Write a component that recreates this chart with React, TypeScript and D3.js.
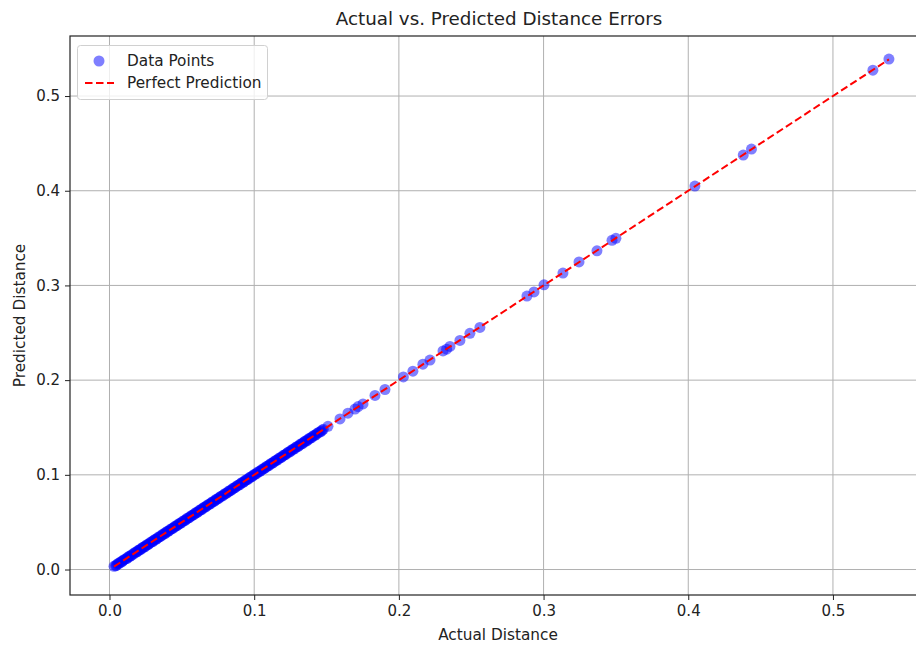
import React, { useEffect, useRef } from 'react';
import * as d3 from 'd3';

// dense cluster of small distances: actual (x) and predicted (y)
const actualDense = [
  0.0031, 0.0042, 0.0055, 0.0068, 0.0079, 0.0091, 0.0104, 0.0117, 0.0128, 0.0142,
  0.0155, 0.0166, 0.0181, 0.0193, 0.0207, 0.0219, 0.0234, 0.0246, 0.0261, 0.0273,
  0.0288, 0.0301, 0.0315, 0.0329, 0.0342, 0.0358, 0.0371, 0.0386, 0.0399, 0.0413,
  0.0428, 0.0442, 0.0457, 0.0469, 0.0484, 0.0498, 0.0513, 0.0527, 0.0541, 0.0556,
  0.0570, 0.0585, 0.0598, 0.0612, 0.0627, 0.0641, 0.0656, 0.0669, 0.0684, 0.0699,
  0.0713, 0.0728, 0.0741, 0.0757, 0.0771, 0.0786, 0.0800, 0.0815, 0.0829, 0.0844,
  0.0858, 0.0872, 0.0887, 0.0901, 0.0916, 0.0930, 0.0945, 0.0959, 0.0974, 0.0988,
  0.1003, 0.1018, 0.1032, 0.1047, 0.1061, 0.1076, 0.1090, 0.1105, 0.1119, 0.1134,
  0.1149, 0.1163, 0.1178, 0.1192, 0.1207, 0.1221, 0.1236, 0.1251, 0.1265, 0.1280,
  0.1294, 0.1309, 0.1324, 0.1338, 0.1353, 0.1368, 0.1382, 0.1397, 0.1412, 0.1428,
  0.1445, 0.1463, 0.1478,
  0.0048, 0.0062, 0.0085, 0.0098, 0.0122, 0.0136, 0.0149, 0.0172, 0.0187, 0.0201,
  0.0213, 0.0227, 0.0240, 0.0254, 0.0267, 0.0281, 0.0295, 0.0308, 0.0322, 0.0336,
  0.0350, 0.0364, 0.0379, 0.0392, 0.0406, 0.0420, 0.0435, 0.0450, 0.0463, 0.0477,
  0.0491, 0.0505, 0.0520, 0.0534, 0.0549, 0.0563, 0.0577, 0.0591, 0.0605, 0.0620,
  0.0634, 0.0648, 0.0662, 0.0677, 0.0691, 0.0706, 0.0720, 0.0735, 0.0749, 0.0764,
  0.0778, 0.0793, 0.0807, 0.0822, 0.0836, 0.0851, 0.0865, 0.0880, 0.0894, 0.0909,
  0.0923, 0.0938, 0.0952, 0.0967, 0.0981, 0.0996, 0.1010, 0.1025, 0.1040, 0.1054,
  0.1069, 0.1083, 0.1098, 0.1112, 0.1127, 0.1141, 0.1156, 0.1170, 0.1185, 0.1200,
  0.1214, 0.1229, 0.1243, 0.1258, 0.1272, 0.1287, 0.1302, 0.1316, 0.1331, 0.1346,
  0.1360, 0.1375, 0.1390, 0.1405, 0.1420, 0.1437, 0.1454, 0.1470,
];
const predictedDense = [
  0.0034, 0.0040, 0.0058, 0.0065, 0.0082, 0.0089, 0.0107, 0.0114, 0.0131, 0.0139,
  0.0158, 0.0163, 0.0184, 0.0190, 0.0210, 0.0216, 0.0237, 0.0243, 0.0264, 0.0270,
  0.0291, 0.0298, 0.0318, 0.0326, 0.0345, 0.0355, 0.0374, 0.0383, 0.0402, 0.0410,
  0.0431, 0.0439, 0.0460, 0.0466, 0.0487, 0.0495, 0.0516, 0.0524, 0.0544, 0.0553,
  0.0573, 0.0582, 0.0601, 0.0609, 0.0630, 0.0638, 0.0659, 0.0666, 0.0687, 0.0696,
  0.0716, 0.0725, 0.0744, 0.0754, 0.0774, 0.0783, 0.0803, 0.0812, 0.0832, 0.0841,
  0.0861, 0.0869, 0.0890, 0.0898, 0.0919, 0.0927, 0.0948, 0.0956, 0.0977, 0.0985,
  0.1006, 0.1015, 0.1035, 0.1044, 0.1064, 0.1073, 0.1093, 0.1102, 0.1122, 0.1131,
  0.1152, 0.1160, 0.1181, 0.1189, 0.1210, 0.1218, 0.1239, 0.1248, 0.1268, 0.1277,
  0.1297, 0.1306, 0.1327, 0.1335, 0.1356, 0.1365, 0.1385, 0.1394, 0.1415, 0.1425,
  0.1448, 0.1460, 0.1481,
  0.0045, 0.0066, 0.0082, 0.0101, 0.0119, 0.0139, 0.0146, 0.0175, 0.0184, 0.0204,
  0.0210, 0.0230, 0.0237, 0.0257, 0.0264, 0.0284, 0.0292, 0.0311, 0.0319, 0.0339,
  0.0347, 0.0367, 0.0376, 0.0395, 0.0403, 0.0423, 0.0432, 0.0453, 0.0460, 0.0480,
  0.0488, 0.0508, 0.0517, 0.0537, 0.0546, 0.0566, 0.0574, 0.0594, 0.0602, 0.0623,
  0.0631, 0.0651, 0.0659, 0.0680, 0.0688, 0.0709, 0.0717, 0.0738, 0.0746, 0.0767,
  0.0775, 0.0796, 0.0804, 0.0825, 0.0833, 0.0854, 0.0862, 0.0883, 0.0891, 0.0912,
  0.0920, 0.0941, 0.0949, 0.0970, 0.0978, 0.0999, 0.1007, 0.1028, 0.1037, 0.1057,
  0.1066, 0.1086, 0.1095, 0.1115, 0.1124, 0.1144, 0.1153, 0.1173, 0.1182, 0.1203,
  0.1211, 0.1232, 0.1240, 0.1261, 0.1269, 0.1290, 0.1299, 0.1319, 0.1328, 0.1349,
  0.1357, 0.1378, 0.1387, 0.1408, 0.1417, 0.1440, 0.1451, 0.1473,
];

// sparse larger distances
const actualSparse = [
  0.1510, 0.1593, 0.1648, 0.1697, 0.1718, 0.1752, 0.1835, 0.1904, 0.2031, 0.2097,
  0.2166, 0.2215, 0.2305, 0.2330, 0.2353, 0.2422, 0.2491, 0.2560, 0.2885, 0.2934,
  0.3003, 0.3134, 0.3245, 0.3369, 0.3473, 0.3500, 0.4046, 0.4380, 0.4437, 0.5276,
  0.5387,
];
const predictedSparse = [
  0.1512, 0.1590, 0.1651, 0.1695, 0.1721, 0.1749, 0.1838, 0.1901, 0.2034, 0.2094,
  0.2169, 0.2212, 0.2308, 0.2327, 0.2356, 0.2419, 0.2494, 0.2557, 0.2888, 0.2931,
  0.3006, 0.3131, 0.3248, 0.3366, 0.3476, 0.3497, 0.4049, 0.4377, 0.4440, 0.5273,
  0.5390,
];

const xTicks = [0.0, 0.1, 0.2, 0.3, 0.4, 0.5];
const yTicks = [0.0, 0.1, 0.2, 0.3, 0.4, 0.5];

const font = 'DejaVu Sans, sans-serif';

function App() {
  const ref = useRef<SVGSVGElement | null>(null);

  useEffect(() => {
    document.body.style.margin = '0';
    if (!ref.current) return;
    const svg = d3.select(ref.current);
    svg.selectAll('*').remove();

    const actual = actualDense.concat(actualSparse);
    const predicted = predictedDense.concat(predictedSparse);

    const left = 70, right = 928, top = 36, bottom = 595;
    const x = d3.scaleLinear().domain([-0.0273, 0.5657]).range([left, right]);
    const y = d3.scaleLinear().domain([-0.0269, 0.5634]).range([bottom, top]);

    // grid
    const grid = svg.append('g');
    grid.selectAll('line.gx').data(xTicks).enter().append('line')
      .attr('x1', d => x(d)).attr('x2', d => x(d))
      .attr('y1', top).attr('y2', bottom)
      .attr('stroke', '#b0b0b0').attr('stroke-width', 1);
    grid.selectAll('line.gy').data(yTicks).enter().append('line')
      .attr('y1', d => y(d)).attr('y2', d => y(d))
      .attr('x1', left).attr('x2', right)
      .attr('stroke', '#b0b0b0').attr('stroke-width', 1);

    // points
    const pts = actual.map((a, i) => [a, predicted[i]]);
    svg.append('g').selectAll('circle').data(pts).enter().append('circle')
      .attr('cx', d => x(d[0])).attr('cy', d => y(d[1])).attr('r', 5.5)
      .attr('fill', 'blue').attr('fill-opacity', 0.5);

    // perfect prediction line
    const lo = d3.min(actual) as number, hi = d3.max(actual) as number;
    const line = d3.line<number>().x(d => x(d)).y(d => y(d));
    svg.append('path').datum([lo, hi]).attr('d', line)
      .attr('fill', 'none').attr('stroke', 'red').attr('stroke-width', 2)
      .attr('stroke-dasharray', '7.5,3.5');

    // axes
    const xAxis = svg.append('g').attr('transform', `translate(0,${bottom})`)
      .call(d3.axisBottom(x).tickValues(xTicks).tickFormat(d3.format('.1f')).tickSize(5).tickPadding(5));
    const yAxis = svg.append('g').attr('transform', `translate(${left},0)`)
      .call(d3.axisLeft(y).tickValues(yTicks).tickFormat(d3.format('.1f')).tickSize(5).tickPadding(5));
    [xAxis, yAxis].forEach(g => {
      g.select('.domain').remove();
      g.selectAll('line').attr('stroke', '#222');
      g.selectAll('text').attr('font-family', font).attr('font-size', 15).attr('fill', '#222');
    });

    // spines
    svg.append('rect').attr('x', left).attr('y', top)
      .attr('width', right - left).attr('height', bottom - top)
      .attr('fill', 'none').attr('stroke', '#222').attr('stroke-width', 1.2);

    // labels
    svg.append('text').attr('x', 499).attr('y', 25).attr('text-anchor', 'middle')
      .attr('font-family', font).attr('font-size', 18.3).attr('fill', '#222')
      .text('Actual vs. Predicted Distance Errors');
    svg.append('text').attr('x', 498).attr('y', 640).attr('text-anchor', 'middle')
      .attr('font-family', font).attr('font-size', 15.3).attr('fill', '#222')
      .text('Actual Distance');
    svg.append('text').attr('transform', `translate(25,${(top + bottom) / 2}) rotate(-90)`)
      .attr('text-anchor', 'middle')
      .attr('font-family', font).attr('font-size', 15.3).attr('fill', '#222')
      .text('Predicted Distance');

    // legend
    const lg = svg.append('g');
    lg.append('rect').attr('x', 77.5).attr('y', 45.5).attr('width', 190).attr('height', 54)
      .attr('rx', 3).attr('fill', 'white').attr('fill-opacity', 0.8)
      .attr('stroke', '#d0d0d0').attr('stroke-width', 1);
    lg.append('circle').attr('cx', 99).attr('cy', 61).attr('r', 5.5)
      .attr('fill', 'blue').attr('fill-opacity', 0.5);
    lg.append('line').attr('x1', 85).attr('x2', 114).attr('y1', 83).attr('y2', 83)
      .attr('stroke', 'red').attr('stroke-width', 2).attr('stroke-dasharray', '7.5,3.5');
    lg.append('text').attr('x', 127).attr('y', 66).attr('font-family', font)
      .attr('font-size', 15.3).attr('fill', '#222').text('Data Points');
    lg.append('text').attr('x', 127).attr('y', 88).attr('font-family', font)
      .attr('font-size', 15.3).attr('fill', '#222').text('Perfect Prediction');
  }, []);

  return <svg ref={ref} width={916} height={646} style={{ display: 'block', background: 'white' }} />;
}

export default App;
